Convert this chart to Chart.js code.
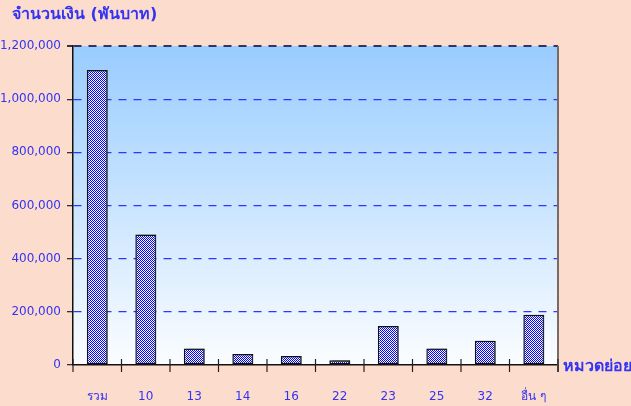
<!DOCTYPE html>
<html>
<head>
<meta charset="utf-8">
<script src="https://cdn.jsdelivr.net/npm/chart.js@4.4.1/dist/chart.umd.min.js"></script>
<style>
  html, body { margin: 0; padding: 0; background: #fcdccc; }
  #wrap { width: 631px; height: 406px; position: relative; }
</style>
</head>
<body>
<div id="wrap"><canvas id="chart"></canvas></div>
<script>
const categories = ['รวม', '10', '13', '14', '16', '22', '23', '25', '32', 'อื่น ๆ'];
const amounts = [1110000, 491000, 62500, 41500, 34000, 17500, 147000, 62500, 91500, 189000];
const yMax = 1200000;
const yStep = 200000;
const titleText = 'จำนวนเงิน (พันบาท)';
const xAxisText = 'หมวดย่อย';

const FONT = 'Tahoma, "DejaVu Sans", sans-serif';
const BLUE_TEXT = '#3333f5';

// checkerboard fill like the old spreadsheet pattern
function makePattern() {
  const c = document.createElement('canvas');
  c.width = 2; c.height = 2;
  const g = c.getContext('2d');
  g.fillStyle = '#ffffff';
  g.fillRect(0, 0, 2, 2);
  g.fillStyle = '#0000ff';
  g.fillRect(0, 0, 1, 1);
  g.fillRect(1, 1, 1, 1);
  return g.createPattern(c, 'repeat');
}

const backdrop = {
  id: 'backdrop',
  beforeDraw(chart) {
    const { ctx, chartArea: a } = chart;
    ctx.save();
    ctx.fillStyle = '#fcdccc';
    ctx.fillRect(0, 0, chart.width, chart.height);
    const grad = ctx.createLinearGradient(0, a.top, 0, a.bottom);
    grad.addColorStop(0, '#99ccff');
    grad.addColorStop(1, '#fbfdff');
    ctx.fillStyle = grad;
    ctx.fillRect(a.left, a.top, a.right - a.left, a.bottom - a.top);
    ctx.restore();
  },
  beforeDatasetDraw(chart) {
    const ctx = chart.ctx;
    ctx.save();
    ctx.shadowColor = 'rgba(60,60,60,0.6)';
    ctx.shadowOffsetX = 3;
    ctx.shadowOffsetY = 0;
    ctx.shadowBlur = 0;
  },
  afterDatasetDraw(chart) {
    chart.ctx.restore();
  },
  afterDraw(chart) {
    const { ctx, chartArea: a } = chart;
    const xs = chart.scales.x;
    ctx.save();
    // right frame line
    ctx.strokeStyle = '#7a6a66';
    ctx.lineWidth = 2;
    ctx.beginPath();
    ctx.moveTo(a.right, a.top);
    ctx.lineTo(a.right, a.bottom + 7);
    ctx.stroke();
    // category separator ticks crossing the x axis
    ctx.strokeStyle = '#222';
    ctx.lineWidth = 1.2;
    for (let i = 0; i <= categories.length; i++) {
      let x;
      if (i === 0) x = a.left;
      else if (i === categories.length) x = a.right;
      else x = (xs.getPixelForValue(i - 1) + xs.getPixelForValue(i)) / 2;
      ctx.beginPath();
      ctx.moveTo(x, a.bottom - 6);
      ctx.lineTo(x, a.bottom + 7);
      ctx.stroke();
    }
    // titles
    ctx.fillStyle = BLUE_TEXT;
    ctx.font = 'bold 16px ' + FONT;
    ctx.textBaseline = 'middle';
    ctx.textAlign = 'left';
    ctx.fillText(titleText, 12, 15);
    ctx.fillText(xAxisText, a.right + 5, a.bottom + 2);
    ctx.restore();
  }
};

const ctx = document.getElementById('chart');
new Chart(ctx, {
  type: 'bar',
  data: {
    labels: categories,
    datasets: [{
      data: amounts,
      backgroundColor: makePattern(),
      borderColor: '#111',
      borderWidth: 1.5,
      borderSkipped: false,
      categoryPercentage: 1,
      barPercentage: 0.43
    }]
  },
  options: {
    responsive: true,
    maintainAspectRatio: false,
    animation: false,
    layout: { padding: { left: 0, top: 46, right: 73, bottom: 0 } },
    plugins: {
      legend: { display: false },
      tooltip: { enabled: false }
    },
    scales: {
      x: {
        afterFit: s => { s.height = 41; },
        grid: { display: false, drawTicks: false },
        border: { display: true, color: '#111', width: 1.5 },
        ticks: {
          color: BLUE_TEXT,
          font: { family: FONT, size: 12 },
          padding: 25,
          maxRotation: 0
        }
      },
      y: {
        min: 0,
        max: yMax,
        afterFit: s => { s.width = 73; },
        border: { display: true, color: '#111', width: 1.5, dash: [8, 7] },
        grid: {
          color: c => c.tick.value === yMax ? '#333366' : (c.tick.value === 0 ? 'rgba(0,0,0,0)' : '#3333ff'),
          lineWidth: c => c.tick.value === yMax ? 2 : 1.3,
          tickColor: '#333',
          tickLength: 6,
          tickBorderDash: []
        },
        ticks: {
          stepSize: yStep,
          color: BLUE_TEXT,
          font: { family: FONT, size: 12 },
          padding: 6,
          callback: v => v.toLocaleString('en-US')
        }
      }
    }
  },
  plugins: [backdrop]
});
</script>
</body>
</html>
